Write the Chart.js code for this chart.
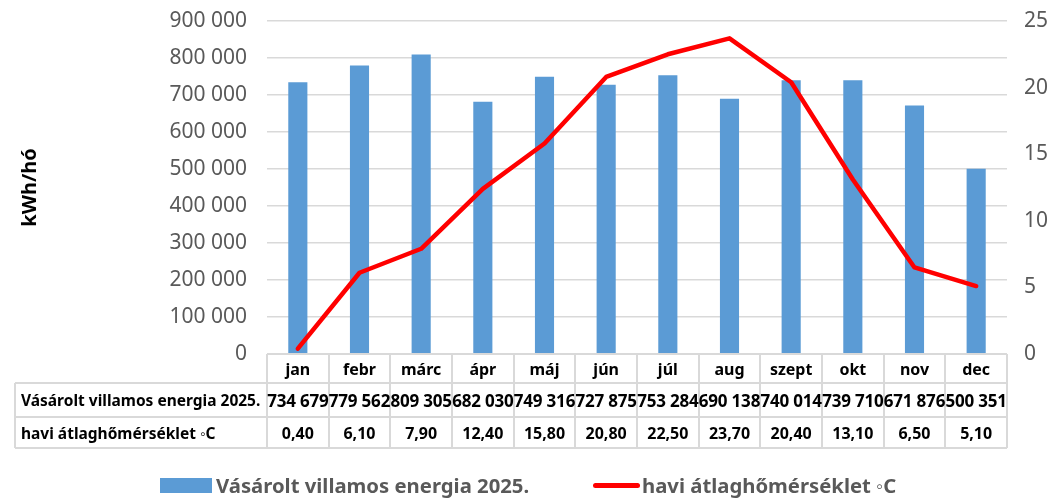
<!DOCTYPE html>
<html>
<head>
<meta charset="utf-8">
<script src="https://cdn.jsdelivr.net/npm/chart.js@4"></script>
<style>
html,body{margin:0;padding:0;background:#fff;}
#wrap{position:relative;width:1059px;height:499px;overflow:hidden;font-family:"Noto Sans",sans-serif;}
#c{position:absolute;left:0;top:0;}
.ln{position:absolute;background:#D9D9D9;}
.cell{position:absolute;display:flex;align-items:center;justify-content:center;white-space:nowrap;font-weight:bold;color:#000;font-size:16px;}
.num{font-size:17px;letter-spacing:-0.2px;}
.rh{justify-content:flex-start;font-size:15.5px;}
.leg{position:absolute;white-space:nowrap;font-weight:bold;color:#595959;font-size:20.3px;line-height:24px;}
</style>
</head>
<body>
<div id="wrap">
<canvas id="c" width="1059" height="499"></canvas>
<div id="tbl"></div>
<div id="legend"></div>
</div>
<script>
const months = ['jan','febr','márc','ápr','máj','jún','júl','aug','szept','okt','nov','dec'];
const energy = [734679, 779562, 809305, 682030, 749316, 727875, 753284, 690138, 740014, 739710, 671876, 500351];
const temperature = [0.4, 6.1, 7.9, 12.4, 15.8, 20.8, 22.5, 23.7, 20.4, 13.1, 6.5, 5.1];
const energyLabel = 'Vásárolt villamos energia 2025.';
const tempLabel = 'havi átlaghőmérséklet ◦C';
const yTitle = 'kWh/hó';

const fmtEnergy = n => String(Math.round(n)).replace(/\B(?=(\d{3})+(?!\d))/g, ' ');
const fmtTemp = v => v.toFixed(2).replace('.', ',');

const chart = new Chart(document.getElementById('c'), {
  data: {
    labels: months,
    datasets: [
      {type:'line', label: tempLabel, data: temperature, yAxisID:'y1', borderColor:'#FF0000', borderWidth:4.5,
       pointRadius:0, tension:0, borderJoinStyle:'round', borderCapStyle:'round', order:0},
      {type:'bar', label: energyLabel, data: energy, yAxisID:'y', backgroundColor:'#5B9BD5',
       barPercentage:0.31, categoryPercentage:1, order:1}
    ]
  },
  options: {
    responsive:false, animation:false,
    layout:{padding:{top:21, bottom:145, left:0, right:0}},
    plugins:{legend:{display:false}, tooltip:{enabled:false}},
    scales:{
      x:{display:false},
      y:{position:'left', min:0, max:900000,
         ticks:{stepSize:100000, callback:v=>fmtEnergy(v), font:{family:'Noto Sans', size:21}, color:'#595959', padding:20},
         grid:{color:'#D9D9D9', lineWidth:1.5, drawTicks:false},
         border:{display:false},
         title:{display:true, text:yTitle, font:{family:'Noto Sans', size:20, weight:'bold'}, color:'#000', padding:{top:18, bottom:0}},
         afterFit:s=>{s.width=267; s.paddingTop=0; s.paddingBottom=0;}},
      y1:{position:'right', min:0, max:25,
         ticks:{stepSize:5, font:{family:'Noto Sans', size:21}, color:'#595959', padding:17},
         grid:{display:false, drawTicks:false},
         border:{display:false},
         afterFit:s=>{s.width=52; s.paddingTop=0; s.paddingBottom=0;}}
    }
  }
});

// data table drawn as HTML, aligned with the chart's category scale
(function(){
  const xs = chart.scales.x;
  const ca = chart.chartArea;
  const L = xs.left, R = xs.right, w = (R - L) / months.length;
  const tableLeft = 15;
  const top0 = Math.round(ca.bottom);
  const rows = [top0, top0 + 29, top0 + 63, top0 + 94];
  const tbl = document.getElementById('tbl');
  const add = (cls, st, txt) => { const d = document.createElement('div'); d.className = cls; Object.assign(d.style, st); if (txt !== undefined) d.textContent = txt; tbl.appendChild(d); };
  const B = 2;
  // horizontal lines
  add('ln', {left:L+'px', top:(rows[0]-1)+'px', width:(R-L)+'px', height:B+'px'});
  for (let r = 1; r < 4; r++) add('ln', {left:tableLeft+'px', top:(rows[r]-1)+'px', width:(R-tableLeft)+'px', height:B+'px'});
  // vertical lines
  add('ln', {left:(tableLeft-1)+'px', top:rows[1]+'px', width:B+'px', height:(rows[3]-rows[1])+'px'});
  for (let i = 0; i <= months.length; i++) add('ln', {left:(L + i*w - 1)+'px', top:rows[0]+'px', width:B+'px', height:(rows[3]-rows[0])+'px'});
  // row headers
  add('cell rh', {left:(tableLeft+6)+'px', top:rows[1]+'px', width:(L-tableLeft-6)+'px', height:(rows[2]-rows[1])+'px'}, energyLabel);
  add('cell rh', {left:(tableLeft+6)+'px', top:rows[2]+'px', width:(L-tableLeft-6)+'px', height:(rows[3]-rows[2])+'px'}, tempLabel);
  months.forEach((m, i) => {
    const cx = xs.getPixelForValue(i);
    const st = r => ({left:(cx - w/2)+'px', top:rows[r]+'px', width:w+'px', height:(rows[r+1]-rows[r])+'px'});
    add('cell', st(0), m);
    add('cell num', st(1), fmtEnergy(energy[i]));
    add('cell', st(2), fmtTemp(temperature[i]));
  });
})();

// legend
(function(){
  const lg = document.getElementById('legend');
  const add = (st, txt, cls) => { const d = document.createElement('div'); if (cls) d.className = cls; Object.assign(d.style, {position:'absolute'}, st); if (txt) d.textContent = txt; lg.appendChild(d); };
  add({left:'160px', top:'478px', width:'52px', height:'15px', background:'#5B9BD5'});
  add({left:'216px', top:'473px'}, energyLabel, 'leg');
  add({left:'593px', top:'483px', width:'47px', height:'5px', background:'#FF0000', borderRadius:'3px'});
  add({left:'642px', top:'473px'}, tempLabel, 'leg');
})();
</script>
</body>
</html>
